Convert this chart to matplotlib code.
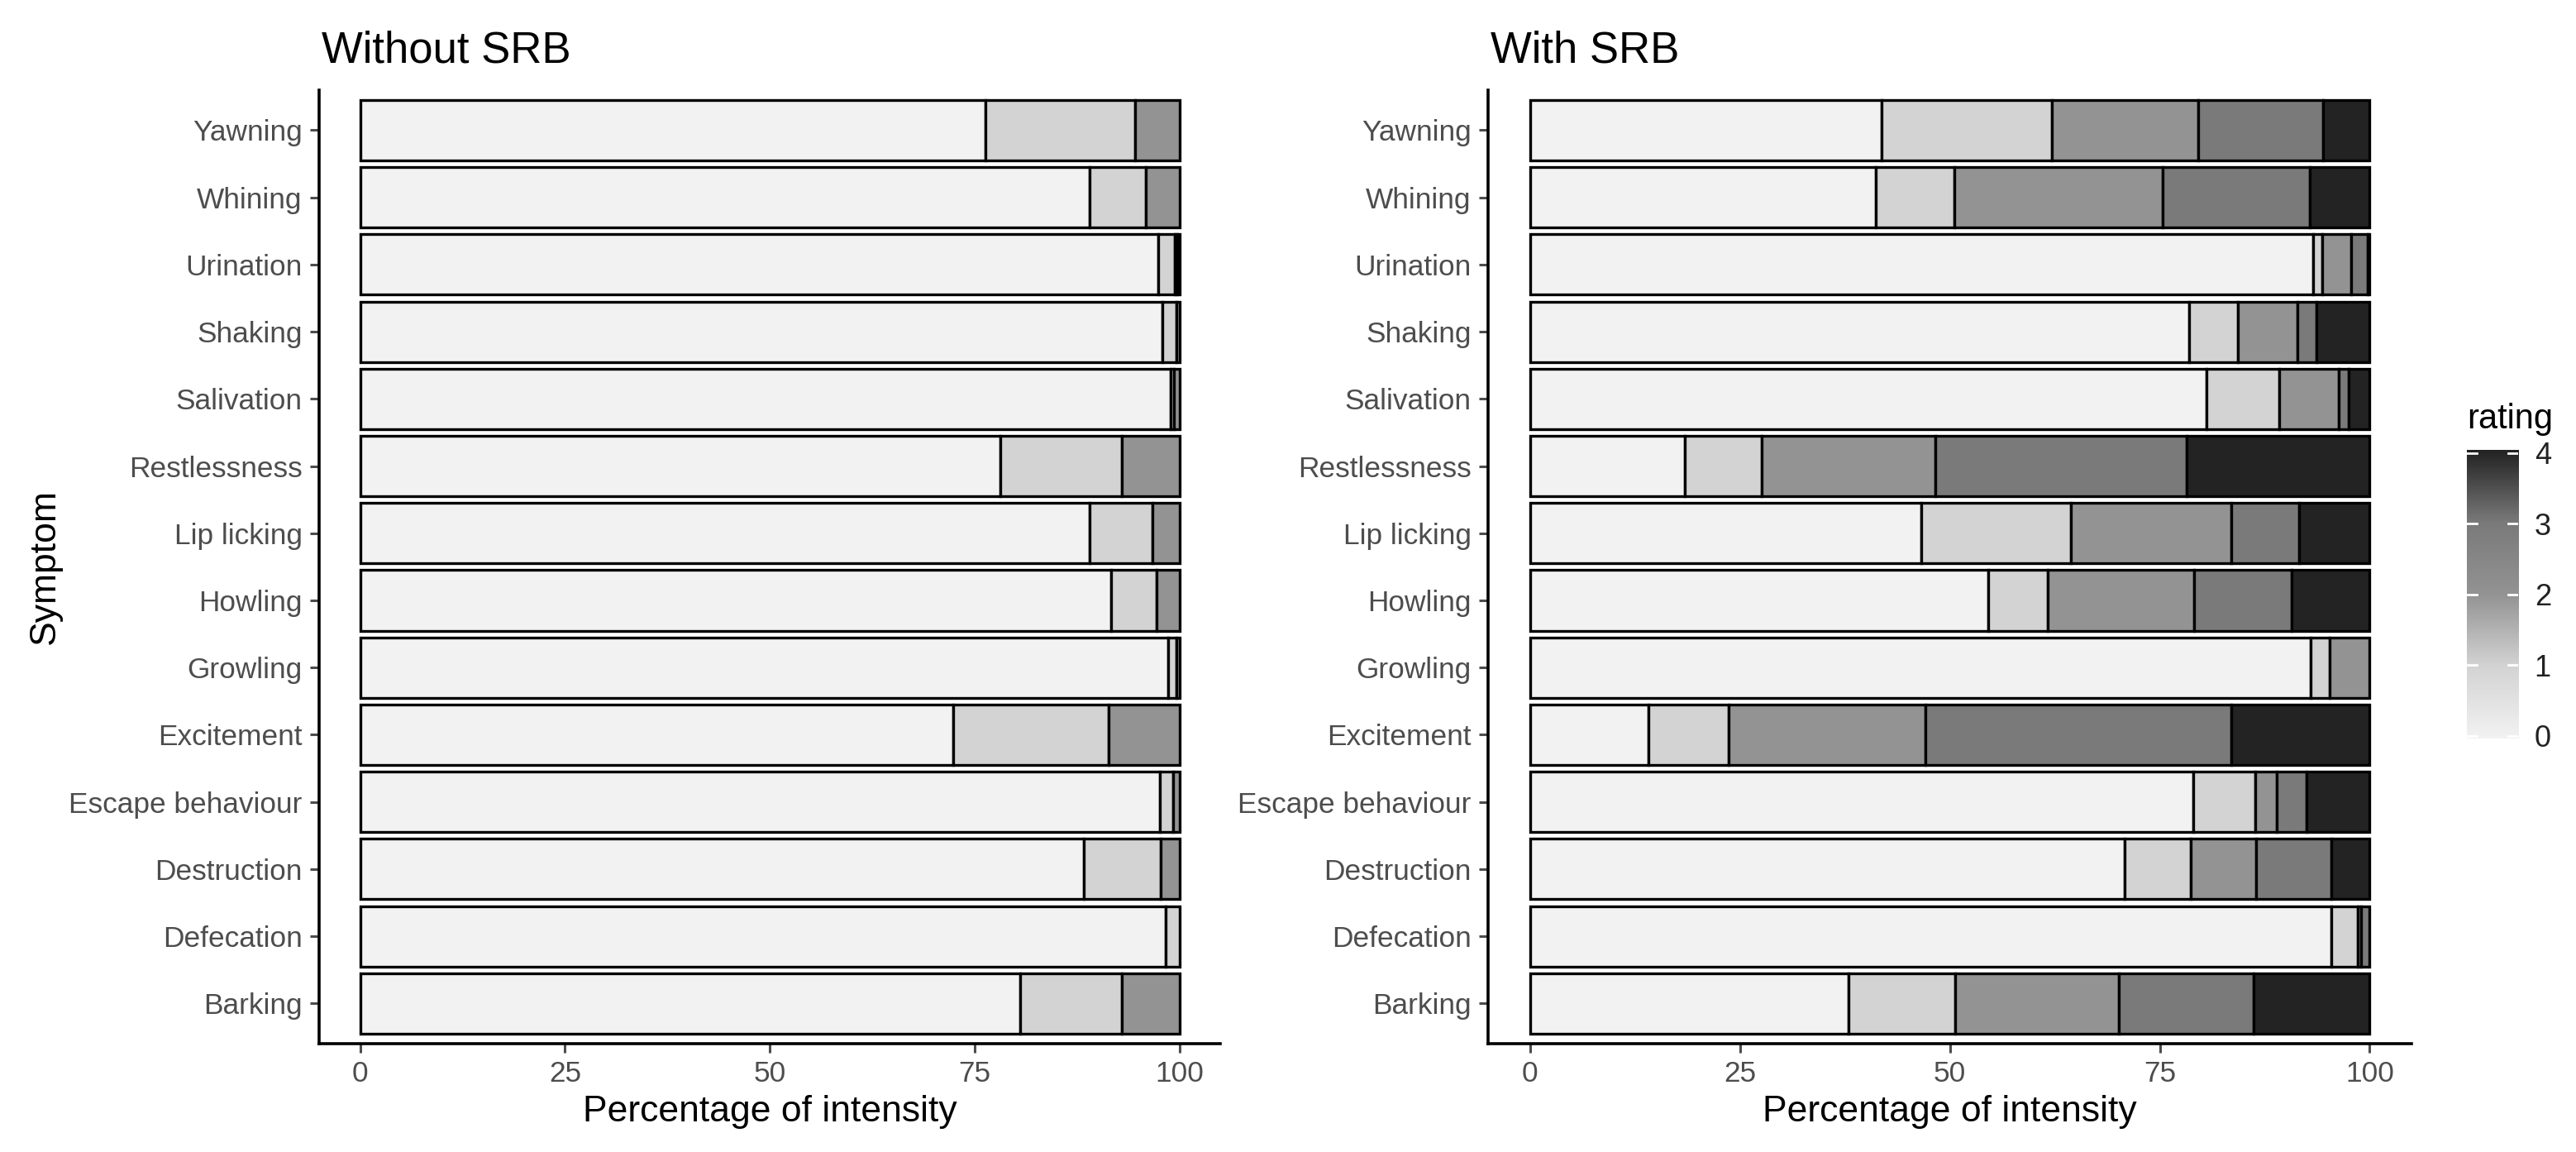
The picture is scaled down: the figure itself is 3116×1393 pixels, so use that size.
import numpy as np
import matplotlib
matplotlib.use("Agg")
import matplotlib.pyplot as plt
from matplotlib.colors import LinearSegmentedColormap

plt.rcParams['font.family'] = ['Liberation Sans', 'DejaVu Sans']

# symptoms, bottom to top (ggplot order)
symptoms = ["Barking", "Defecation", "Destruction", "Escape behaviour", "Excitement",
            "Growling", "Howling", "Lip licking", "Restlessness", "Salivation",
            "Shaking", "Urination", "Whining", "Yawning"]

# percentage of each rating (0..4), without SRB
wo_r0 = [80.6, 98.3, 88.3, 97.6, 72.4, 98.6, 91.7, 89.0, 78.2, 98.9, 97.9, 97.4, 89.0, 76.3]
wo_r1 = [12.4, 1.7, 9.4, 1.6, 19.0, 1.0, 5.5, 7.7, 14.8, 0.4, 1.7, 2.0, 6.9, 18.3]
wo_r2 = [7.0, 0.0, 2.3, 0.8, 8.6, 0.4, 2.8, 3.3, 7.0, 0.7, 0.4, 0.3, 4.1, 5.4]
wo_r3 = [0.0, 0.0, 0.0, 0.0, 0.0, 0.0, 0.0, 0.0, 0.0, 0.0, 0.0, 0.0, 0.0, 0.0]
wo_r4 = [0.0, 0.0, 0.0, 0.0, 0.0, 0.0, 0.0, 0.0, 0.0, 0.0, 0.0, 0.3, 0.0, 0.0]

# with SRB
w_r0 = [37.9, 95.4, 70.8, 79.0, 14.1, 93.0, 54.6, 46.6, 18.4, 80.6, 78.5, 93.3, 41.2, 41.9]
w_r1 = [12.7, 3.2, 7.9, 7.4, 9.5, 2.2, 7.1, 17.8, 9.2, 8.6, 5.8, 1.0, 9.3, 20.2]
w_r2 = [19.5, 0.4, 7.8, 2.5, 23.5, 4.8, 17.4, 19.1, 20.7, 7.1, 7.1, 3.5, 24.8, 17.5]
w_r3 = [16.1, 1.0, 8.9, 3.6, 36.4, 0.0, 11.6, 8.1, 29.9, 1.2, 2.3, 2.0, 17.6, 14.8]
w_r4 = [13.8, 0.0, 4.6, 7.5, 16.5, 0.0, 9.3, 8.4, 21.8, 2.5, 6.3, 0.2, 7.1, 5.6]

ratings = [0, 1, 2, 3, 4]
rating_colors = ["#F2F2F2", "#D3D3D3", "#939393", "#7A7A7A", "#232323"]

fig = plt.figure(figsize=(15.58, 6.965), dpi=200)

panels = [
    ("Without SRB", [wo_r0, wo_r1, wo_r2, wo_r3, wo_r4], [0.1239, 0.0940, 0.3498, 0.8280]),
    ("With SRB", [w_r0, w_r1, w_r2, w_r3, w_r4], [0.5777, 0.0940, 0.3585, 0.8280]),
]

y = np.arange(len(symptoms))
for i, (title, series, rect) in enumerate(panels):
    ax = fig.add_axes(rect)
    left = np.zeros(len(symptoms))
    for r, vals in zip(ratings, series):
        vals = np.array(vals)
        m = vals > 0
        ax.barh(y[m], vals[m], left=left[m], height=0.9, color=rating_colors[r],
                edgecolor="black", linewidth=1.2)
        left += vals
    ax.set_xlim(-5, 105)
    ax.set_ylim(-0.6, len(symptoms) - 0.4)
    ax.set_xticks([0, 25, 50, 75, 100])
    ax.set_yticks(y)
    ax.set_yticklabels(symptoms)
    for side in ["top", "right"]:
        ax.spines[side].set_visible(False)
    for side in ["left", "bottom"]:
        ax.spines[side].set_linewidth(1.3)
    ax.tick_params(axis="both", colors="#4D4D4D", labelsize=12.7, length=3.8, width=1.1, pad=3.5)
    ax.set_xlabel("Percentage of intensity", fontsize=16, labelpad=3)
    if i == 0:
        ax.set_ylabel("Symptom", fontsize=16, labelpad=3)
    ax.set_title(title, loc="left", fontsize=19, pad=12, x=0.003)

# colour bar legend
cmap = LinearSegmentedColormap.from_list("rating", list(zip(np.array(ratings) / 4, rating_colors)))
cax = fig.add_axes([0.9576, 0.3589, 0.0200, 0.2505])
grad = np.linspace(0, 4, 300).reshape(-1, 1)
cax.imshow(grad, aspect="auto", cmap=cmap, origin="lower", extent=[0, 1, -0.04, 4.04])
for t in ratings:
    cax.plot([0, 0.2], [t, t], color="white", lw=1.0)
    cax.plot([0.8, 1], [t, t], color="white", lw=1.0)
cax.set_xlim(0, 1)
cax.set_ylim(-0.04, 4.04)
cax.set_xticks([])
cax.yaxis.tick_right()
cax.set_yticks(ratings)
cax.tick_params(axis="y", length=0, labelsize=13, pad=7, labelcolor="#222222")
for s in cax.spines.values():
    s.set_visible(False)
fig.text(0.9576, 0.6281, "rating", fontsize=15, ha="left", va="baseline")

fig.savefig("out.png", dpi=200)
